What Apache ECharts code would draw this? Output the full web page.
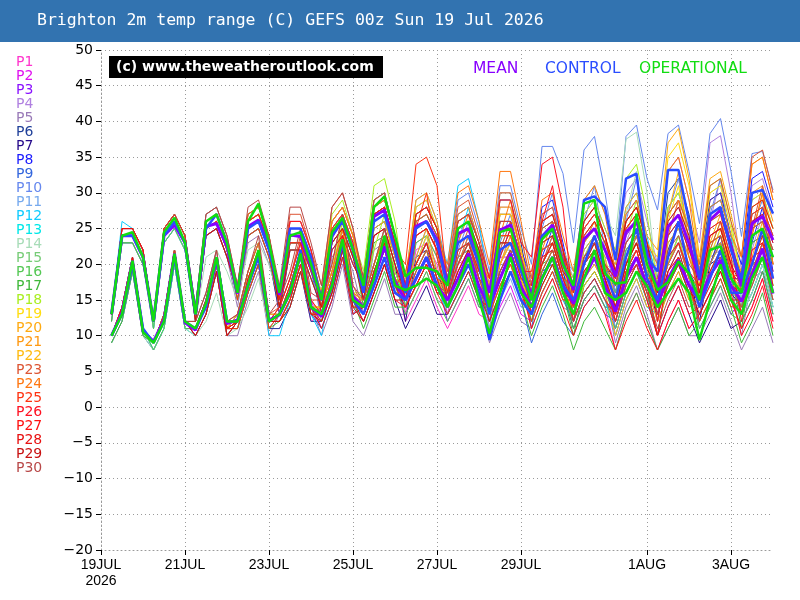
<!DOCTYPE html>
<html>
<head>
<meta charset="utf-8">
<title>Brighton 2m temp range GEFS</title>
<script src="https://cdn.jsdelivr.net/npm/echarts@6/dist/echarts.min.js"></script>
<style>
  html, body { margin: 0; padding: 0; background: #fff; }
  #chart { width: 800px; height: 600px; }
</style>
</head>
<body>
<div id="chart"></div>
<script>
// x axis: 6-hourly steps from 19 Jul 00z, runs start at 06z (index 1)
const tickIndex = [0, 8, 16, 24, 32, 40, 52, 60];
const tickLabels = ['19JUL\n2026', '21JUL', '23JUL', '25JUL', '27JUL', '29JUL', '1AUG', '3AUG'];

// each run: max line (upper bundle) and min line (lower bundle), 64 values, 4 per day
const p01max = [13,24,24,21, 12,24,26,23, 13,26,27,23, 15,24,25,21, 13,22,22,18, 15,25,27,23, 18,28,29,24, 13,22,23,20, 13,20,21,17, 14,23,23,18, 16,25,26,21, 13,20,22,19, 13,19,21,16, 10,19,21,17, 16,24,25,20, 13,22,23,19];
const p01min = [10,13,20,11, 9,12,21,12, 11,15,21,11, 11,16,20,11, 11,14,19,12, 13,18,24,15, 15,20,24,18, 12,15,18,14, 11,14,17,13, 12,16,19,15, 14,19,22,17, 11,15,17,14, 8,13,16,12, 8,12,15,11, 13,16,19,15, 11,14,18,12];
const p02max = [13,25,25,22, 12,24,26,23, 12,24,25,21, 16,26,27,23, 16,26,26,22, 13,22,24,20, 18,29,30,24, 16,26,27,24, 17,24,25,21, 12,21,21,16, 14,22,23,18, 17,25,27,24, 15,21,23,18, 15,24,26,22, 19,29,30,24, 17,26,27,23];
const p02min = [10,14,21,11, 9,12,21,12, 10,13,19,10, 12,18,22,12, 14,18,23,15, 11,15,21,13, 15,20,25,18, 15,19,22,17, 15,18,21,17, 10,14,17,13, 12,16,19,15, 15,20,22,18, 10,15,18,14, 13,17,20,16, 16,20,24,18, 15,18,22,16];
const p03max = [13,24,24,21, 12,25,27,24, 13,26,27,23, 16,25,26,22, 14,23,23,19, 16,26,28,24, 16,25,26,21, 17,27,28,25, 14,21,22,18, 16,26,26,21, 17,27,28,22, 14,21,23,20, 18,24,26,21, 17,27,29,25, 14,22,23,18, 17,27,28,24];
const p03min = [10,13,20,11, 9,13,22,12, 11,15,21,11, 12,17,21,12, 12,15,20,13, 14,19,25,16, 13,17,21,16, 16,20,23,18, 12,15,18,14, 14,19,22,17, 15,20,24,18, 12,16,18,15, 13,18,21,17, 15,20,23,18, 11,14,17,13, 15,19,23,16];
const p04max = [13,24,24,21, 11,23,25,22, 13,25,26,22, 16,26,27,23, 15,25,25,21, 15,24,26,22, 18,28,29,24, 17,28,29,25, 17,25,26,22, 17,28,28,22, 17,26,27,22, 18,27,29,25, 21,30,32,26, 20,33,35,29, 23,37,38,30, 19,31,32,27];
const p04min = [10,13,20,11, 8,11,20,11, 11,14,20,11, 12,18,22,12, 13,17,22,14, 13,17,23,15, 15,20,24,18, 16,20,24,18, 15,19,22,17, 15,20,24,18, 15,20,23,18, 16,21,24,19, 16,23,27,20, 18,24,29,21, 20,26,32,22, 17,22,27,18];
const p05max = [12,23,23,20, 12,24,26,23, 12,24,25,21, 14,23,24,20, 15,24,24,20, 12,21,23,19, 13,22,23,18, 14,23,24,21, 16,23,24,20, 11,20,20,15, 13,21,22,17, 15,22,24,21, 14,20,22,17, 10,18,20,16, 13,21,22,17, 10,18,19,15];
const p05min = [9,12,19,10, 9,12,21,12, 10,13,19,10, 10,15,19,10, 13,16,21,14, 10,14,20,12, 10,14,18,13, 13,16,19,15, 14,17,20,16, 9,13,16,12, 11,15,18,14, 13,17,19,16, 9,14,17,13, 8,11,14,10, 10,13,16,12, 8,11,14,9];
const p06max = [13,24,24,21, 12,25,27,24, 13,25,26,22, 15,24,25,21, 13,22,22,18, 14,23,25,21, 17,27,28,23, 16,25,26,23, 18,26,27,23, 18,29,29,23, 15,23,24,19, 13,20,22,19, 19,26,28,23, 18,30,32,27, 19,29,30,24, 15,24,25,21];
const p06min = [10,13,20,11, 9,13,22,12, 11,14,20,11, 11,16,20,11, 11,14,19,12, 12,16,22,14, 14,19,23,17, 15,18,21,17, 16,20,23,18, 16,21,25,19, 13,17,20,16, 11,15,17,14, 14,20,23,18, 16,22,26,19, 16,20,24,18, 13,16,20,14];
const p07max = [13,25,25,22, 12,24,26,23, 13,26,27,23, 17,27,28,24, 15,24,24,20, 15,25,27,23, 15,24,25,20, 12,21,22,19, 15,22,23,19, 16,25,25,20, 17,26,27,22, 17,26,28,24, 16,22,24,19, 12,21,23,19, 12,20,21,16, 14,23,24,20];
const p07min = [10,14,21,11, 9,12,21,12, 11,15,21,11, 13,19,23,13, 13,16,21,14, 13,18,24,15, 12,16,20,15, 11,14,17,13, 13,16,19,15, 14,18,21,17, 15,20,23,18, 15,20,23,18, 11,16,19,15, 10,14,17,13, 9,12,15,11, 12,15,19,13];
const p08max = [13,24,24,21, 12,24,26,23, 12,24,25,21, 16,25,26,22, 15,25,25,21, 16,26,28,24, 17,26,27,22, 15,24,25,22, 18,27,28,23, 17,27,27,22, 18,28,29,23, 16,24,26,23, 19,27,29,23, 16,25,27,23, 19,28,29,24, 20,32,33,28];
const p08min = [10,13,20,11, 9,12,21,12, 10,13,19,10, 12,17,21,12, 13,17,22,14, 14,19,25,16, 14,18,22,17, 14,17,20,16, 16,20,24,18, 15,20,23,18, 16,21,25,19, 14,19,21,17, 14,20,24,18, 14,18,21,17, 16,20,23,18, 18,23,28,19];
const p09max = [12,23,23,20, 11,23,25,22, 13,25,26,22, 16,26,27,23, 14,23,23,19, 13,22,24,20, 17,27,28,23, 17,27,28,25, 17,24,25,21, 14,23,23,18, 11,19,20,15, 12,19,21,18, 17,23,25,20, 17,28,30,25, 18,27,28,23, 16,25,26,22];
const p09min = [9,12,19,10, 8,11,20,11, 11,14,20,11, 12,18,22,12, 12,15,20,13, 11,15,21,13, 14,19,23,17, 16,20,23,18, 15,18,21,17, 12,16,19,15, 9,13,16,12, 10,14,16,13, 12,17,20,16, 15,20,24,18, 15,19,22,17, 14,17,21,15];
const p10max = [13,25,25,22, 12,24,26,23, 13,25,26,22, 16,26,27,23, 16,26,26,22, 15,25,27,23, 18,29,30,24, 18,29,30,26, 19,29,30,25, 19,31,31,25, 20,36.5,36.5,32.7, 23,36,37.9,30, 20.6,37.9,39.5,32, 27.6,38.3,39.5,33, 25.7,38.3,40.4,33, 23.9,35.5,35.8,30.4];
const p10min = [10,14,21,11, 9,12,21,12, 11,14,20,11, 12,18,22,12, 14,18,23,15, 13,18,24,15, 15,20,25,18, 17,21,25,19, 17,22,26,19, 17,23,27,20, 18,25,30,21, 19,26,31,22, 17,26,32,23, 20,27,32,23, 19,27,32,22, 18,25,29,21];
const p11max = [13,24,24,21, 12,25,27,24, 13,25,26,22, 15,24,25,21, 15,24,24,20, 13,22,24,20, 18,28,29,24, 17,28,29,25, 16,23,24,20, 13,22,22,17, 16,24,25,20, 17,25,27,24, 16,22,24,19, 16,26,28,24, 15,23,24,19, 16,25,26,22];
const p11min = [10,13,20,11, 9,13,22,12, 11,14,20,11, 11,16,20,11, 13,16,21,14, 11,15,21,13, 15,20,24,18, 16,20,24,18, 14,17,20,16, 11,15,18,14, 14,18,21,17, 15,20,22,18, 11,16,19,15, 14,19,22,17, 12,15,18,14, 14,17,21,15];
const p12max = [13,26,25,22, 12,25,27,24, 14,27,28,24, 16,25,26,22, 14,23,23,19, 15,25,27,23, 18,29,30,24, 17,27,28,25, 20,31,32,26, 16,26,26,21, 14,22,23,18, 15,22,24,21, 20,28,30,24, 17,27,29,25, 18,27,28,23, 18,29,30,25];
const p12min = [10,14,21,11, 9,13,22,12, 12,16,22,12, 12,17,21,10, 10,15,20,13, 10,18,24,15, 15,20,25,18, 16,20,23,18, 18,23,28,20, 14,19,22,17, 12,16,19,15, 13,17,19,16, 15,21,25,19, 15,20,23,18, 15,19,22,17, 16,20,25,17];
const p13max = [13,24,24,21, 11,23,25,22, 12,24,25,21, 16,25,26,22, 15,25,25,21, 14,23,25,21, 16,25,26,21, 16,26,27,24, 15,22,23,19, 15,24,24,19, 16,25,26,21, 14,21,23,20, 15,21,23,18, 15,24,26,22, 19,28,29,24, 15,24,25,21];
const p13min = [10,13,20,11, 8,11,20,11, 10,13,19,10, 12,17,21,12, 13,17,22,14, 12,16,22,14, 13,17,21,16, 15,19,22,17, 13,16,19,15, 13,17,20,16, 14,19,22,17, 12,16,18,15, 10,15,18,14, 13,17,20,16, 16,20,23,18, 13,16,20,14];
const p14max = [12,23,23,20, 11,23,25,22, 12,21,22,19, 15,22,23,20, 15,24,24,20, 15,25,27,23, 18,28,29,24, 15,24,25,22, 17,24,25,21, 18,30,30,24, 17,27,28,22, 19,29,31,27, 24,37.5,38.5,30, 17,28,30,25, 20,30,31,25, 15,24,25,21];
const p14min = [9,12,19,10, 8,11,20,11, 10,12,16,10, 11,14,18,11, 13,16,21,14, 13,18,24,15, 15,20,24,18, 14,17,20,16, 15,18,21,17, 16,22,26,19, 15,20,24,18, 17,23,26,20, 19,27,33,23, 15,20,24,18, 17,21,25,19, 13,16,20,14];
const p15max = [13,24,24,21, 12,24,26,23, 12,24,25,21, 16,25,26,22, 14,22,22,18, 15,24,26,22, 16,25,26,21, 16,25,26,23, 17,25,26,22, 15,24,24,19, 14,22,23,18, 16,23,25,22, 18,25,27,22, 14,23,25,21, 17,25,26,21, 17,27,28,24];
const p15min = [10,13,20,11, 9,12,21,12, 10,13,19,10, 12,17,21,12, 12,14,19,13, 13,17,23,15, 13,17,21,16, 15,18,21,17, 15,19,22,17, 13,17,20,16, 12,16,19,15, 14,18,20,17, 13,19,22,17, 12,16,19,15, 14,17,20,16, 15,19,23,16];
const p16max = [13,24,24,21, 11,23,25,22, 13,25,26,22, 16,26,27,23, 15,25,25,21, 14,23,25,21, 17,26,27,22, 14,23,24,21, 14,21,22,18, 16,26,26,21, 16,24,25,20, 13,20,22,19, 16,22,24,19, 16,25,27,23, 14,22,23,18, 14,23,24,20];
const p16min = [10,13,20,11, 8,11,20,11, 11,14,20,11, 12,18,22,12, 13,17,22,14, 12,16,22,14, 14,18,22,17, 13,16,19,15, 12,15,18,14, 14,19,22,17, 14,18,21,17, 11,15,17,14, 11,16,19,15, 14,18,21,17, 11,14,17,13, 12,15,19,13];
const p17max = [12,23,23,20, 12,24,26,23, 13,25,26,22, 15,24,25,21, 14,23,23,19, 15,24,26,22, 14,23,24,19, 15,24,25,22, 17,24,25,21, 14,23,23,18, 12,20,21,16, 10,17,19,16, 13,19,21,16, 10,18,20,16, 15,23,24,19, 11,20,21,17];
const p17min = [9,12,19,10, 9,12,21,12, 11,14,20,11, 11,16,20,11, 12,15,20,13, 13,17,23,15, 11,15,19,14, 14,17,20,16, 15,18,21,17, 12,16,19,15, 10,14,17,13, 8,12,14,11, 8,13,16,12, 8,11,14,10, 12,15,18,14, 9,12,16,10];
const p18max = [13,24,24,21, 12,25,27,24, 13,25,26,22, 17,27,28,24, 15,24,24,20, 16,27,29,24, 19,31,32,26, 16,26,27,24, 18,26,27,23, 16,25,25,20, 16,25,26,21, 18,27,29,25, 22,32,34,27, 17,28,30,25, 20,31,32,26, 18,28,29,25];
const p18min = [10,13,20,11, 9,13,22,12, 11,14,20,11, 13,19,23,13, 13,16,21,14, 14,19,26,16, 16,22,27,19, 15,19,22,17, 16,20,23,18, 14,18,21,17, 14,19,22,17, 16,21,24,19, 17,24,29,21, 15,20,24,18, 17,22,26,19, 16,20,24,17];
const p19max = [13,24,24,21, 12,24,26,23, 13,26,27,23, 16,26,27,23, 15,25,25,21, 16,26,28,24, 17,27,28,23, 17,28,29,25, 17,24,25,21, 17,27,27,22, 15,23,24,19, 16,24,26,23, 19,26,28,23, 21,35,37,31, 20,30,31,25, 18,29,30,25];
const p19min = [10,13,20,11, 9,12,21,12, 11,15,21,11, 12,18,22,12, 13,17,22,14, 14,19,25,16, 14,19,23,17, 16,20,24,18, 15,18,21,17, 15,20,23,18, 13,17,20,16, 14,19,21,17, 14,20,23,18, 19,26,31,22, 17,21,25,19, 16,20,25,17];
const p20max = [13,25,25,22, 12,25,27,24, 13,25,26,22, 17,27,28,24, 15,25,25,21, 15,24,26,22, 18,28,29,24, 18,29,30,26, 18,26,27,23, 17,28,28,22, 16,25,26,21, 16,23,25,22, 20,28,30,24, 22,37,39,32, 21,32,33,27, 21,34,35,29];
const p20min = [10,14,21,11, 9,13,22,12, 11,14,20,11, 13,19,23,13, 13,17,22,14, 13,17,23,15, 15,20,24,18, 17,21,25,19, 16,20,23,18, 15,20,24,18, 14,19,22,17, 14,18,20,17, 15,21,25,19, 20,27,33,23, 18,23,27,20, 19,24,30,20];
const p21max = [13,24,24,21, 12,25,27,24, 13,26,27,23, 16,25,26,22, 16,26,26,22, 15,25,27,23, 16,25,26,21, 17,27,28,25, 18,27,28,23, 15,24,24,19, 17,26,27,22, 17,26,28,24, 18,25,27,22, 14,23,25,21, 18,26,27,22, 19,30,31,26];
const p21min = [10,13,20,11, 9,13,22,12, 11,15,21,11, 12,17,21,12, 14,18,23,15, 13,18,24,15, 13,17,21,16, 16,20,23,18, 16,20,24,18, 13,17,20,16, 15,20,23,18, 15,20,23,18, 13,19,22,17, 12,16,19,15, 15,18,21,17, 17,21,26,18];
const p22max = [13,24,24,21, 12,24,26,23, 13,26,27,23, 16,26,27,23, 15,24,24,20, 16,26,28,24, 18,29,30,24, 16,26,27,24, 16,23,24,20, 17,27,27,22, 16,24,25,20, 15,22,24,21, 15,21,23,18, 17,27,29,25, 18,27,28,23, 16,25,26,22];
const p22min = [10,13,20,11, 9,12,21,12, 11,15,21,11, 12,18,22,12, 13,16,21,14, 14,19,25,16, 15,20,25,18, 15,19,22,17, 14,17,20,16, 15,20,23,18, 14,18,21,17, 13,17,19,16, 10,15,18,14, 15,20,23,18, 15,19,22,17, 14,17,21,15];
const p23max = [13,25,25,22, 12,25,27,24, 14,27,28,24, 17,27,28,24, 16,27,27,22, 17,28,30,25, 17,27,28,23, 17,27,28,25, 19,28,29,24, 18,30,30,24, 17,27,28,22, 17,25,27,24, 18,25,27,22, 17,27,29,25, 20,31,32,26, 21,35,36,30];
const p23min = [10,14,21,11, 9,13,22,12, 12,16,22,12, 13,19,23,13, 14,18,24,15, 15,20,27,17, 14,19,23,17, 16,20,23,18, 17,21,25,19, 16,22,26,19, 15,20,24,18, 15,20,22,18, 13,19,22,17, 15,20,23,18, 17,22,26,19, 19,25,31,20];
const p24max = [13,24,24,21, 12,25,27,24, 13,25,26,22, 16,26,27,23, 14,23,23,19, 16,26,28,24, 18,28,29,24, 16,25,26,23, 20,30,31,26, 20,33,33,26, 18,29,30,24, 19,29,31,27, 19,27,29,23, 20,33,35,29, 19,28,29,24, 21,34,35,29];
const p24min = [10,13,20,11, 9,13,22,12, 11,14,20,11, 12,18,22,12, 12,15,20,13, 14,19,25,16, 15,20,24,18, 15,18,21,17, 18,23,27,20, 18,24,29,21, 16,22,26,19, 17,23,26,20, 14,20,24,18, 18,24,29,21, 16,20,23,18, 19,24,30,20];
const p25max = [13,24,24,21, 12,24,26,23, 13,26,27,23, 15,24,25,21, 15,24,24,20, 14,23,25,21, 17,26,27,22, 20,34,35,31, 17,25,26,22, 15,24,24,19, 14,22,23,18, 17,25,27,24, 17,23,25,20, 16,25,27,23, 15,23,24,19, 17,27,28,24];
const p25min = [10,13,20,11, 9,12,21,12, 11,15,21,11, 11,16,20,11, 13,16,21,14, 12,16,22,14, 14,18,22,17, 19,25,30,21, 15,19,22,17, 13,17,20,16, 12,16,19,15, 15,20,22,18, 12,17,20,16, 14,18,21,17, 12,15,18,14, 15,19,23,16];
const p26max = [13,25,25,22, 12,24,26,23, 12,24,25,21, 16,25,26,22, 16,26,26,22, 15,25,27,23, 15,24,25,20, 15,24,25,22, 18,26,27,23, 18,29,29,23, 21,34,35,28, 14,21,23,20, 18,25,27,22, 12,21,23,19, 17,25,26,21, 12,21,22,18];
const p26min = [10,14,21,11, 9,12,21,12, 10,13,19,10, 12,17,21,12, 14,18,23,15, 13,18,24,15, 12,16,20,15, 14,17,20,16, 16,20,23,18, 16,21,25,19, 19,26,31,22, 12,16,18,15, 13,19,22,17, 10,14,17,13, 14,17,20,16, 10,13,17,11];
const p27max = [13,24,24,21, 12,25,27,24, 13,25,26,22, 16,25,26,22, 14,23,23,19, 15,24,26,22, 17,27,28,23, 15,24,25,22, 15,22,23,19, 16,26,26,21, 13,21,22,17, 12,19,21,18, 12,18,20,15, 10,19,21,17, 16,24,25,20, 13,22,23,19];
const p27min = [10,13,20,11, 9,13,22,12, 11,14,20,11, 12,17,21,12, 12,15,20,13, 13,17,23,15, 14,19,23,17, 14,17,20,16, 13,16,19,15, 14,19,22,17, 11,15,18,14, 10,14,16,13, 8,12,15,11, 8,12,15,11, 13,16,19,15, 11,14,18,12];
const p28max = [13,25,25,22, 12,24,26,23, 13,26,27,23, 16,26,27,23, 15,25,25,21, 13,22,24,20, 17,27,28,23, 17,27,28,25, 16,23,24,20, 14,23,23,18, 17,26,27,22, 16,24,26,23, 19,26,28,23, 15,24,26,22, 18,27,28,23, 18,28,29,25];
const p28min = [10,14,21,11, 9,12,21,12, 11,15,21,11, 12,18,22,12, 13,17,22,14, 11,15,21,13, 14,19,23,17, 16,20,23,18, 14,17,20,16, 12,16,19,15, 15,20,23,18, 14,19,21,17, 14,20,23,18, 13,17,20,16, 15,19,22,17, 16,20,24,17];
const p29max = [13,24,24,21, 12,24,26,23, 12,24,25,21, 16,25,26,22, 14,22,22,18, 14,23,25,21, 15,24,25,20, 16,25,26,23, 17,25,26,22, 16,25,25,20, 15,23,24,19, 17,26,28,24, 19,26,28,23, 16,26,28,24, 16,24,25,20, 17,26,27,23];
const p29min = [10,13,20,11, 9,12,21,12, 10,13,19,10, 12,17,21,12, 12,14,19,13, 12,16,22,14, 12,16,20,15, 15,18,21,17, 15,19,22,17, 14,18,21,17, 13,17,20,16, 15,20,23,18, 14,20,23,18, 14,19,22,17, 13,16,19,15, 15,18,22,16];
const p30max = [13,24,24,21, 12,25,27,24, 14,27,28,24, 17,28,29,24, 17,28,28,23, 17,28,30,25, 18,29,30,24, 16,26,27,24, 18,26,27,23, 16,26,26,21, 16,25,26,21, 14,21,23,20, 17,23,25,20, 13,22,24,20, 18,26,27,22, 16,25,26,22];
const p30min = [10,13,20,11, 9,13,22,12, 12,16,22,12, 13,19,24,13, 15,19,25,16, 15,20,27,17, 15,20,25,18, 15,19,22,17, 16,20,23,18, 14,19,22,17, 14,19,22,17, 12,16,18,15, 12,17,20,16, 11,15,18,14, 15,18,21,17, 14,17,21,15];

const meanMax = [13,24,24,21, 12,24,25.5,23, 13,25.3,25.7,22.5, 15.9,25.3,26.2,22.5, 15.7,24.1,23.9,19.7, 15,23.9,26.4,22, 16.9,26.7,27.6,22, 16,25.3,26,23.4, 17.3,24.3,25,21, 16,24.8,25.5,20.1, 15.5,23.9,25.5,20.1, 16.4,23.5,25,22, 18.3,24.5,26,21.5, 16.4,25.3,26.9,22.9, 17.8,26.2,27.6,22.5, 16.9,25.7,26.7,23.4];
const meanMin = [10,13.2,20.5,10.6, 9.2,12.2,21.5,11.8, 10.8,14.5,20.6,11.7, 12.2,17,21.5,12.2, 12.9,16,21.5,14, 12.7,17,23,15.5, 14,18,22.5,17.5, 15,18,21,16.9, 15,18,21.5,16.9, 14,18,21.5,16.9, 14,18,21,17, 14.5,18,21,17, 13.4,18,21,17, 14.5,18,20.6,17, 15,18.5,20.6,17, 14.8,18.5,22.2,15.9];
const ctrlMax = [13,24,24,21, 12,24,26,23, 13,25,27,23, 16,25,26,22, 16,25,25,21, 15,24,26,22, 16,26,27,22, 16,25,26,23, 17,23,24,20, 13,22,23,19, 15,24,25,20, 17,29,29.5,28, 20.6,32,32.7,21, 19,33.2,33.2,26, 18,27,28,22, 18,30,30.4,27.1];
const ctrlMin = [10,13,20,11, 9,12,21,12, 11,14,21,12, 12,17,21,12, 13,16,22,14, 13,17,23,15, 13,17,21,16, 15,18,21,17, 14,17,20,16, 9.4,15,19,15, 13,18,21,17, 15,20,24,19, 15,21,25,18, 15,21,26,19, 14,18,22,16, 16,20,25,18];
const operMax = [13,24,24.5,21, 12,24.5,26.5,23, 13,26,27,23, 16,26,28.5,23, 16,24,24.5,20, 15,24.5,26.5,22, 17,28,29.5,24, 18.3,19.5,19.5,19, 17,25,26,21, 14,24.5,25,20, 15,23.5,25,20, 17,28.5,29,18.7, 17.3,17.5,27.1,20, 16.4,17.5,20.4,18.7, 15,22,22.5,18, 16,24,25,21];
const operMin = [10,13,20.5,10.5, 9,12,21.5,12, 11,14.5,21,12, 12,17,22,12, 13,16,21.5,14, 13,17,23.5,15, 14,18,24,17, 16.4,17,18,17, 14,17,21,15, 10.3,16,21,16, 14,18,21,16, 13,18,22,16, 15,16,19,17, 14,16,18,16, 9.4,15,20,15, 13,18,21,16];

const memberNames = ['P1','P2','P3','P4','P5','P6','P7','P8','P9','P10','P11','P12','P13','P14','P15',
  'P16','P17','P18','P19','P20','P21','P22','P23','P24','P25','P26','P27','P28','P29','P30'];
const memberColors = ['#ff33cc','#e010f0','#8a10ff','#b080e0','#9a7bb8','#1f3f99','#24088a','#1a1aff','#3366dd','#6688ee',
  '#77aaee','#11ccff','#00e8e8','#a8dcb8','#77cc77','#55c855','#3fb83a','#aaee22','#ffdd11','#ffaa11',
  '#ff9911','#ffbb11','#dd5533','#ff7711','#ff3311','#ff1122','#ff1111','#e81111','#c81111','#b84848'];
const memberMax = [p01max,p02max,p03max,p04max,p05max,p06max,p07max,p08max,p09max,p10max,p11max,p12max,p13max,p14max,p15max,
  p16max,p17max,p18max,p19max,p20max,p21max,p22max,p23max,p24max,p25max,p26max,p27max,p28max,p29max,p30max];
const memberMin = [p01min,p02min,p03min,p04min,p05min,p06min,p07min,p08min,p09min,p10min,p11min,p12min,p13min,p14min,p15min,
  p16min,p17min,p18min,p19min,p20min,p21min,p22min,p23min,p24min,p25min,p26min,p27min,p28min,p29min,p30min];

const steps = [];
for (let h = 0; h <= 384; h += 6) steps.push('T+' + h);

const gridGrey = '#9a9a9a';
const dotted = [1, 3];

function lineSeries(name, color, values, width, z) {
  return {
    name: name,
    type: 'line',
    data: [null].concat(values),
    symbol: 'none',
    silent: true,
    z: z,
    itemStyle: { color: color },
    lineStyle: { color: color, width: width },
  };
}

const series = [];
memberNames.forEach((n, i) => {
  series.push(lineSeries(n, memberColors[i], memberMax[i], 1, 2));
  series.push(lineSeries(n, memberColors[i], memberMin[i], 1, 2));
});
series.push(lineSeries('MEAN', '#8800ff', meanMax, 3, 3));
series.push(lineSeries('MEAN', '#8800ff', meanMin, 3, 3));
series.push(lineSeries('CONTROL', '#2a4dff', ctrlMax, 2.5, 4));
series.push(lineSeries('CONTROL', '#2a4dff', ctrlMin, 2.5, 4));
series.push(lineSeries('OPERATIONAL', '#11dd11', operMax, 2.5, 5));
series.push(lineSeries('OPERATIONAL', '#11dd11', operMin, 2.5, 5));

const isTick = (idx) => tickIndex.indexOf(idx) >= 0;

function topLegend(name, color, left) {
  return {
    data: [name], left: left, top: 61, padding: 0,
    itemWidth: 0, itemHeight: 0, selectedMode: false,
    textStyle: { color: color, fontFamily: 'DejaVu Sans', fontSize: 15.5, lineHeight: 16 },
  };
}

const chart = echarts.init(document.getElementById('chart'));
chart.setOption({
  animation: false,
  backgroundColor: '#fff',
  title: {
    text: 'Brighton 2m temp range (C) GEFS 00z Sun 19 Jul 2026',
    left: 37, top: 11, padding: 0,
    textStyle: { color: '#fff', fontFamily: 'DejaVu Sans Mono', fontSize: 16.5, fontWeight: 'normal', lineHeight: 20 },
  },
  graphic: [
    { type: 'rect', z: -10, shape: { x: 0, y: 0, width: 800, height: 42 }, style: { fill: '#3273b0' } },
    { type: 'rect', z: 10, shape: { x: 109, y: 56, width: 274, height: 22 }, style: { fill: '#000' } },
    { type: 'text', z: 11, x: 116, y: 67,
      style: { text: '(c) www.theweatheroutlook.com', fill: '#fff', font: 'bold 14px "DejaVu Sans"', verticalAlign: 'middle' } },
  ],
  legend: [
    {
      data: memberNames.map((n, i) => ({ name: n, textStyle: { color: memberColors[i] } })),
      orient: 'vertical', left: 10, top: 55, padding: 0, itemGap: 0,
      itemWidth: 0, itemHeight: 0, selectedMode: false,
      textStyle: { fontFamily: 'DejaVu Sans', fontSize: 14, lineHeight: 14 },
    },
    topLegend('MEAN', '#8800ff', 467),
    topLegend('CONTROL', '#2a4dff', 539),
    topLegend('OPERATIONAL', '#11dd11', 633),
  ],
  grid: { left: 101, right: 27, top: 50, bottom: 50 },
  xAxis: {
    type: 'category',
    data: steps,
    boundaryGap: false,
    axisLine: { onZero: false, lineStyle: { color: gridGrey, type: dotted } },
    axisTick: { interval: (i) => isTick(i), length: 5, lineStyle: { color: '#000' } },
    axisLabel: {
      interval: (i) => isTick(i),
      formatter: (v, i) => tickLabels[tickIndex.indexOf(i)] || '',
      color: '#000', fontFamily: 'Liberation Sans', fontSize: 14, lineHeight: 16, margin: 7,
    },
    splitLine: { show: true, interval: (i) => isTick(i), lineStyle: { color: gridGrey, type: dotted } },
  },
  yAxis: {
    type: 'value',
    min: -20, max: 50, interval: 5,
    axisLine: { show: true, lineStyle: { color: gridGrey, type: dotted } },
    axisTick: { show: true, length: 5, lineStyle: { color: '#000' } },
    axisLabel: {
      formatter: (v) => (v < 0 ? '\u2212' + Math.abs(v) : String(v)),
      color: '#000', fontFamily: 'DejaVu Sans', fontSize: 14, margin: 8,
    },
    splitLine: { show: true, lineStyle: { color: gridGrey, type: dotted } },
  },
  series: series,
});
</script>
</body>
</html>
